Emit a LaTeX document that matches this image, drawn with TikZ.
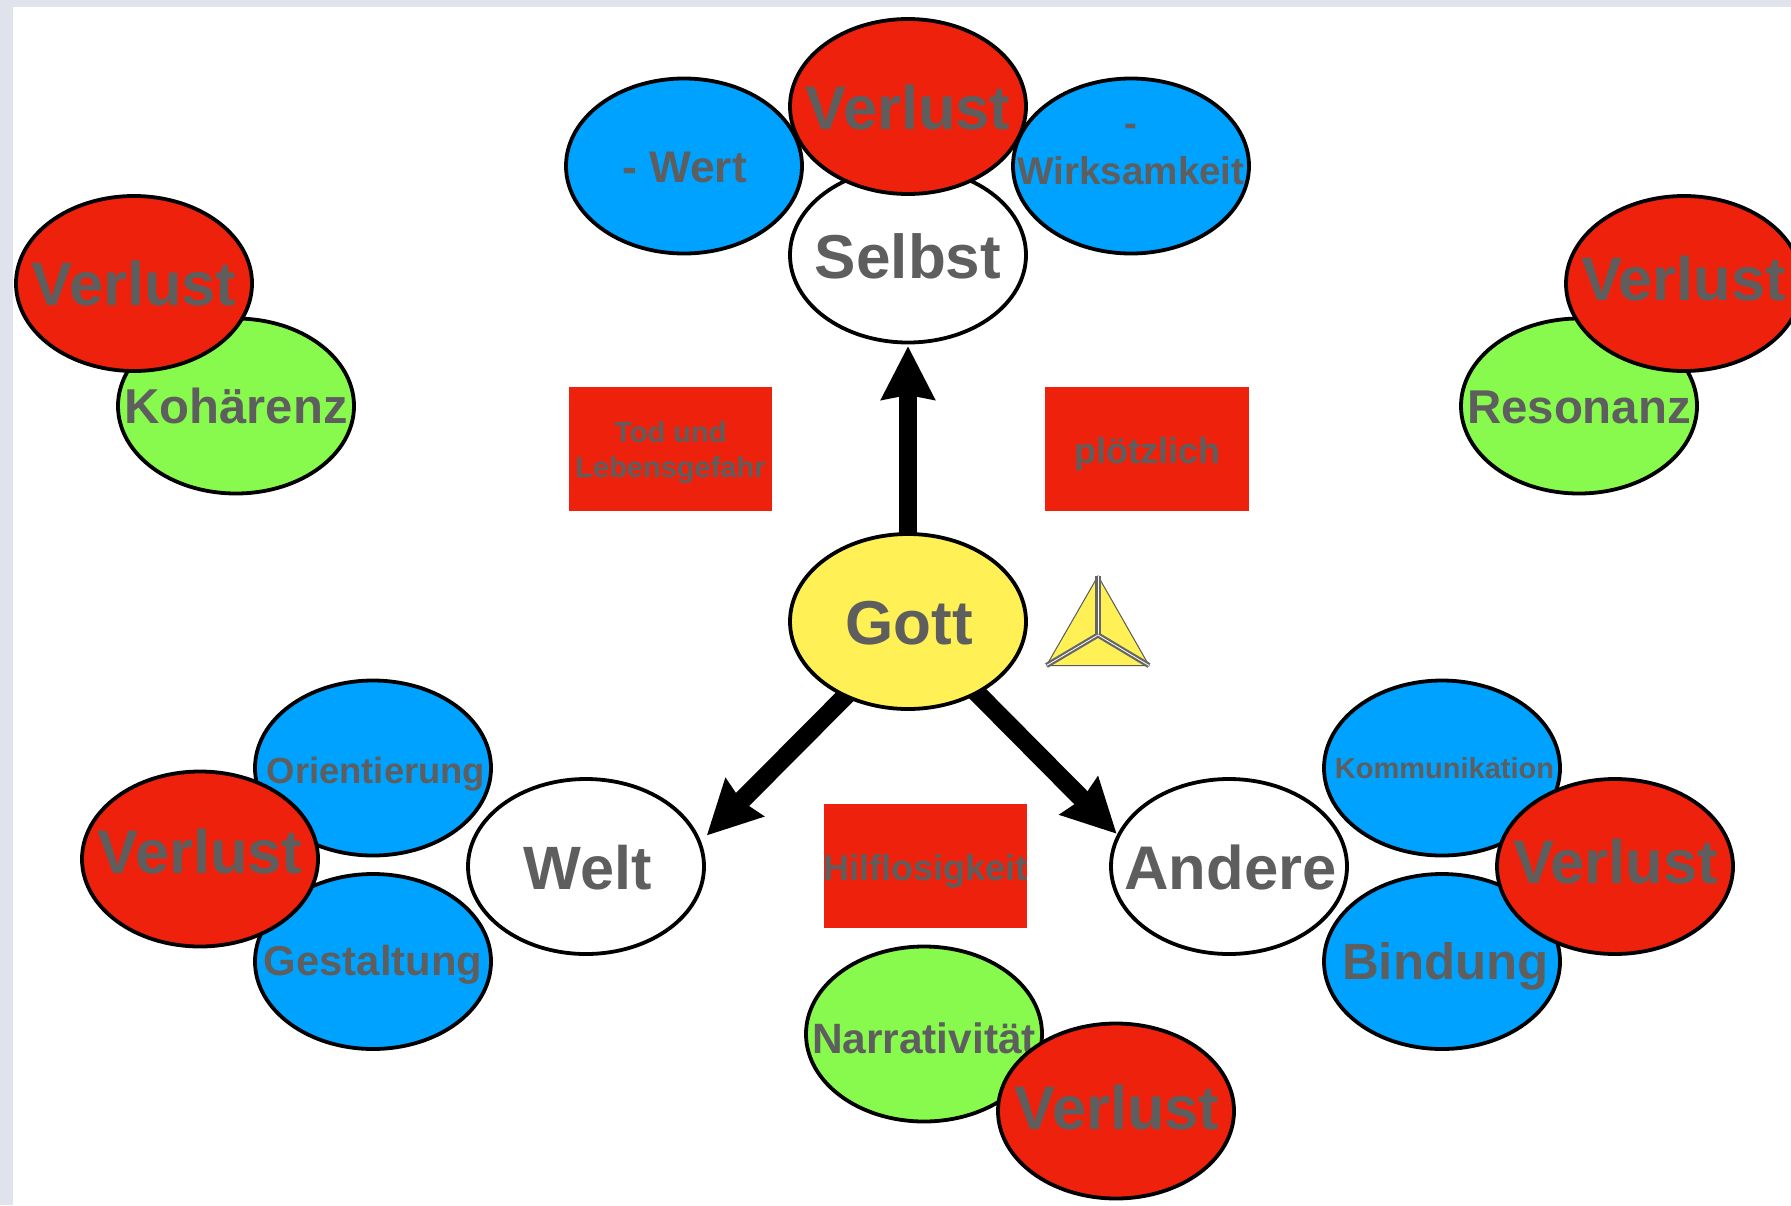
\documentclass[tikz,border=0pt]{standalone}
\usepackage{fontspec}
\setmainfont{Liberation Sans}
\usetikzlibrary{shapes.geometric,arrows.meta}
\definecolor{frame}{HTML}{E0E3EC}
\definecolor{kblue}{HTML}{00A2FF}
\definecolor{kred}{HTML}{EE220C}
\definecolor{kgreen}{HTML}{88FA4E}
\definecolor{kyellow}{HTML}{FFF056}
\definecolor{ktext}{HTML}{5E5E5E}
\pgfdeclarelayer{arrowlayer}
\pgfdeclarelayer{backlayer}
\pgfsetlayers{backlayer,arrowlayer,main}
% zero-size label, so that the shape keeps its fixed size: size, dx, dy, text
\newcommand{\lab}[4]{\smash{\makebox[0pt][c]{\hspace{#2pt}\raisebox{\dimexpr-0.36\dimexpr#1pt\relax-#3pt\relax}[0pt][0pt]{\fontsize{#1}{#1}\selectfont\bfseries #4}}}}
\tikzset{
  x=1pt,y=-1pt,
  oval/.style={ellipse,draw=black,line width=3.8pt,minimum width=236pt,minimum height=175pt,inner sep=0pt,outer sep=0pt,text=ktext},
  blueoval/.style={oval,fill=kblue},
  redoval/.style={oval,fill=kred},
  greenoval/.style={oval,fill=kgreen},
  whiteoval/.style={oval,fill=white},
  yellowoval/.style={oval,fill=kyellow},
  redbox/.style={rectangle,fill=kred,minimum width=203.5pt,minimum height=123.5pt,inner sep=0pt,outer sep=0pt,text=ktext},
  bigarrow/.style={line width=18.5pt,-{Stealth[length=53pt,width=52pt,inset=4pt]},black},
  triedge/.style={draw=black!65,line width=1pt,line join=miter},
  triinner/.style={draw=black!60,line width=2.2pt,double=white,double distance=0.8pt},
}
\begin{document}
\begin{tikzpicture}
\useasboundingbox (0,0) rectangle (1791,1205);
\clip (0,0) rectangle (1791,1205);
\begin{pgfonlayer}{backlayer}
\fill[frame] (0,0) rectangle (1791,1205);
\fill[white] (13,7) rectangle (1791,1205);
\end{pgfonlayer}

\node[whiteoval] (selbst) at (908,255) {\lab{62}{0}{1}{Selbst}};
\node[blueoval] (wert) at (684,166) {\lab{44.3}{1}{1}{- Wert}};
\node[blueoval] (wirk) at (1131,166) {\lab{38.6}{-1}{-43}{-}\lab{38.6}{0}{5}{Wirksamkeit}};
\node[redoval] (vtop) at (908,106.5) {\lab{61.4}{0}{1}{Verlust}};

\node[greenoval] (koh) at (236,406) {\lab{49}{0}{0}{Kohärenz}};
\node[redoval] (vl) at (134,283.5) {\lab{61.4}{0}{0}{Verlust}};
\node[greenoval] (res) at (1579,406) {\lab{47.4}{0}{0}{Resonanz}};
\node[redoval] (vr) at (1684,283.5) {\lab{61.4}{-1}{-5}{Verlust}};

\node[yellowoval] (gott) at (908,621.5) {\lab{62}{2}{1}{Gott}};
\node[whiteoval] (welt) at (586,866.5) {\lab{61.2}{3}{1}{Welt}};
\node[whiteoval] (andere) at (1229,866.5) {\lab{61.6}{3}{1}{Andere}};

\node[blueoval] (ori) at (373,768) {\lab{36.4}{6}{2}{Orientierung}};
\node[blueoval] (ges) at (373,961.5) {\lab{41.8}{0}{-1}{Gestaltung}};
\node[redoval] (vw) at (200,859) {\lab{61.4}{0}{-8}{Verlust}};

\node[blueoval] (kom) at (1442,768) {\lab{29}{5}{0}{Kommunikation}};
\node[blueoval] (bin) at (1442,961.5) {\lab{51}{7}{0}{Bindung}};
\node[redoval] (va) at (1615,866.5) {\lab{61.4}{1}{-5}{Verlust}};

\node[greenoval] (nar) at (924,1034) {\lab{42.4}{0}{4}{Narrativität}};
\node[redoval] (vn) at (1116,1111) {\lab{61.4}{2}{-4}{Verlust}};

\node[redbox] (tod) at (670.5,449) {\lab{29}{0}{-17}{Tod und}\lab{29}{0}{18}{Lebensgefahr}};
\node[redbox] (ploetz) at (1147,449) {\lab{36}{0}{2}{plötzlich}};
\node[redbox] (hilf) at (925.5,866) {\lab{36}{0}{2}{Hilflosigkeit}};

\begin{pgfonlayer}{arrowlayer}
\draw[bigarrow,shorten >=3.5pt] ([yshift=-5pt]gott.north) -- (selbst.south);
\draw[bigarrow] ([shift={(5,-5)}]gott.230) -- ([shift={(9.7,-1.2)}]welt.15);
\draw[bigarrow] ([shift={(-5,-5)}]gott.-46) -- ([shift={(-1.3,-2.9)}]andere.165);
\end{pgfonlayer}

\coordinate (ta) at (1098,576);
\coordinate (tl) at (1046.5,665.5);
\coordinate (tr) at (1149,665.5);
\coordinate (tc) at (1098,635);
\fill[kyellow] (ta) -- (tr) -- (tl) -- cycle;
\draw[triedge] (ta) -- (tr) -- (tl) -- cycle;
\draw[triinner] (tc) -- (ta);
\draw[triinner] (tc) -- (tl);
\draw[triinner] (tc) -- (tr);
\end{tikzpicture}
\end{document}
